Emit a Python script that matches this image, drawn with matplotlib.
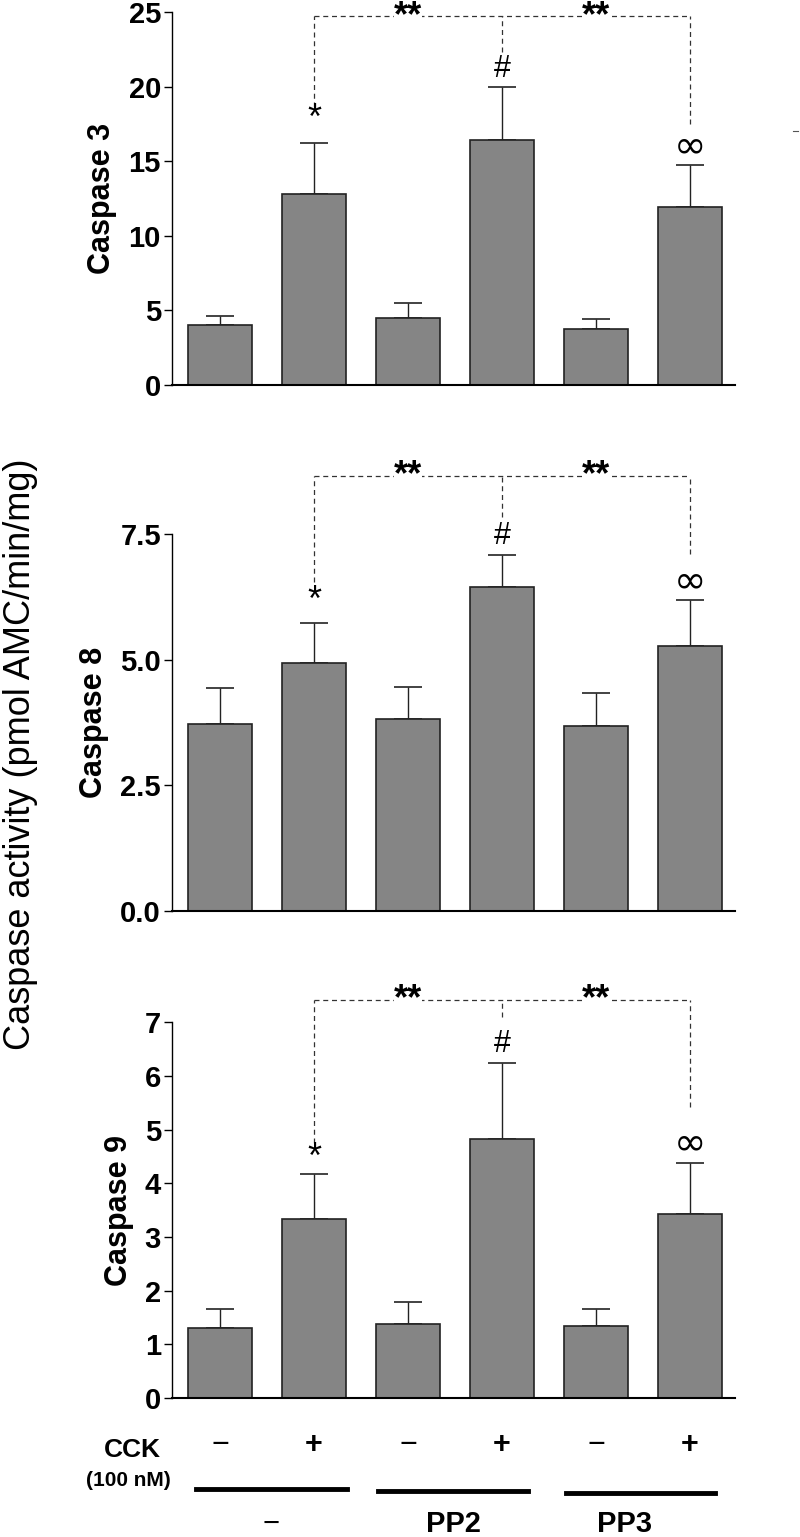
import numpy as np
import matplotlib
matplotlib.use("Agg")
import matplotlib.pyplot as plt
from matplotlib.transforms import blended_transform_factory

# ---------------------------------------------------------------
# Data
# ---------------------------------------------------------------
cck_signs = ["\u2212", "+", "\u2212", "+", "\u2212", "+"]
groups = ["\u2212", "PP2", "PP3"]

casp3_mean = [4.0, 12.8, 4.5, 16.4, 3.75, 11.9]
casp3_err = [0.6, 3.45, 1.0, 3.6, 0.65, 2.85]

casp8_mean = [3.72, 4.94, 3.82, 6.45, 3.68, 5.28]
casp8_err = [0.71, 0.79, 0.63, 0.63, 0.66, 0.90]

casp9_mean = [1.31, 3.33, 1.37, 4.82, 1.34, 3.43]
casp9_err = [0.34, 0.84, 0.42, 1.41, 0.31, 0.94]

panel_names = ["Caspase 3", "Caspase 8", "Caspase 9"]
panel_ticks = [[0, 5, 10, 15, 20, 25], [0.0, 2.5, 5.0, 7.5], [0, 1, 2, 3, 4, 5, 6, 7]]
panel_ticklabels = [["0", "5", "10", "15", "20", "25"],
                    ["0.0", "2.5", "5.0", "7.5"],
                    ["0", "1", "2", "3", "4", "5", "6", "7"]]

# significance brackets: top height, left/mid/right drop ends, mark heights
bracket_top = [24.7, 8.66, 7.41]
bracket_ends = [[18.6, 22.3, 17.5], [6.55, 7.84, 7.11], [4.74, 7.1, 5.42]]
mark_y = [[17.8, 21.2, 16.0], [6.15, 7.45, 6.55], [4.46, 6.6, 4.74]]

narrow = ["Liberation Sans Narrow", "Liberation Sans", "DejaVu Sans"]
sans = ["Liberation Sans", "DejaVu Sans"]

fig = plt.figure(figsize=(8, 15.37), dpi=100)

boxes = [[0.215, 0.7495, 0.704, 0.2427],
         [0.215, 0.4073, 0.704, 0.2453],
         [0.215, 0.0904, 0.704, 0.2446]]

means = [casp3_mean, casp8_mean, casp9_mean]
errs = [casp3_err, casp8_err, casp9_err]

x = np.arange(6)
axes = []
for i in range(3):
    ax = fig.add_axes(boxes[i])
    axes.append(ax)
    ax.bar(x, means[i], width=0.68, color="#858585", edgecolor="#222222", linewidth=1.2, zorder=2)
    ax.errorbar(x, means[i], yerr=[np.zeros(6), errs[i]], fmt="none", ecolor="#222222",
                elinewidth=1.0, capsize=10, capthick=1.2, zorder=1)
    ax.set_xlim(-0.51, 5.48)
    ax.set_ylim(0, panel_ticks[i][-1])
    ax.set_yticks(panel_ticks[i])
    ax.set_yticklabels(panel_ticklabels[i], family=narrow, fontweight="bold", fontsize=21)
    ax.set_xticks([])
    ax.spines["top"].set_visible(False)
    ax.spines["right"].set_visible(False)
    ax.spines["left"].set_linewidth(1.0)
    ax.spines["bottom"].set_linewidth(1.5)
    ax.tick_params(axis="y", direction="out", length=6, width=1.0, pad=2)
    ax.set_ylabel(panel_names[i], family=sans, fontweight="bold", fontsize=22, labelpad=8)

    # brackets
    top = bracket_top[i]
    lkw = dict(color="#333333", linewidth=0.9, linestyle=(0, (4, 3)), clip_on=False)
    ax.plot([1, 5], [top, top], **lkw)
    ax.plot([1, 1], [bracket_ends[i][0], top], **lkw)
    ax.plot([3, 3], [bracket_ends[i][1], top], **lkw)
    ax.plot([5, 5], [bracket_ends[i][2], top], **lkw)
    for xs in [2, 4]:
        ax.text(xs, top, "**", ha="center", va="center", fontsize=26, fontweight="bold",
                family=sans, bbox=dict(facecolor="white", edgecolor="none", pad=0), clip_on=False)
    ax.text(1, mark_y[i][0], "*", ha="center", va="center", fontsize=26, family=sans, clip_on=False)
    ax.text(3, mark_y[i][1], "#", ha="center", va="center", fontsize=22, family=sans, clip_on=False)
    ax.text(5, mark_y[i][2], "\u221e", ha="center", va="center", fontsize=28, family=["DejaVu Sans"],
            clip_on=False)

# common y label
fig.text(0.026, 0.509, "Caspase activity (pmol AMC/min/mg)", rotation=90, ha="center", va="center",
         family=sans, fontsize=26)

# bottom treatment labels
ax = axes[2]
tr = blended_transform_factory(ax.transData, fig.transFigure)
for xi, s in zip(x, cck_signs):
    wt = "bold" if s == "+" else "normal"
    ax.text(xi, 1 - 1445 / 1537, s, transform=tr, ha="center", va="center", fontsize=22,
            fontweight=wt, family=sans)
fig.text(0.165, 1 - 1450 / 1537, "CCK", ha="center", va="center", fontsize=19, fontweight="bold",
         family=narrow)
fig.text(0.161, 1 - 1480 / 1537, "(100 nM)", ha="center", va="center", fontsize=15, fontweight="bold",
         family=narrow)

line_spans = [(-0.255, 1.35), (1.68, 3.28), (3.68, 5.27)]
line_y = [1489, 1491, 1493]
for (a, b), yy in zip(line_spans, line_y):
    ax.plot([a, b], [1 - yy / 1537] * 2, transform=tr, color="black", linewidth=3.5, clip_on=False)

group_x = [0.54, 2.48, 4.3]
for gx, g in zip(group_x, groups):
    wt = "normal" if g == "\u2212" else "bold"
    ax.text(gx, 1 - 1524 / 1537, g, transform=tr, ha="center", va="center", fontsize=21,
            fontweight=wt, family=sans)

# small stray mark at right edge
fig.add_artist(plt.Line2D([0.991, 0.998], [1 - 131 / 1537] * 2, color="#555555", linewidth=0.8))

fig.savefig("out.png", dpi=100)
